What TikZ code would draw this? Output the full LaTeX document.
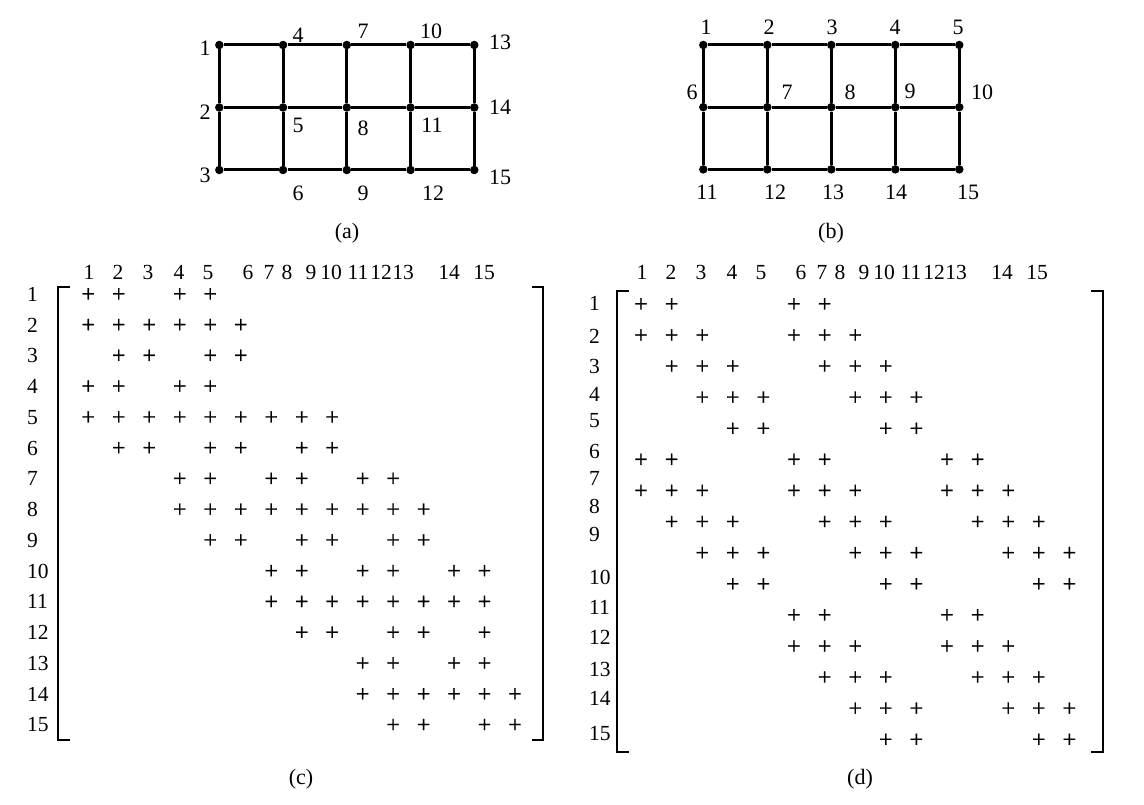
\documentclass[tikz,border=0pt]{standalone}
\usepackage{fontspec}
\setmainfont{Liberation Serif}
\newfontfamily\plusfont[FakeBold=0.8]{Liberation Serif}
\tikzstyle{vertex} = [circle, fill, inner sep=0pt, minimum size=8.5pt]
\tikzstyle{edge} = [line width=3pt]
\tikzstyle{caption} = [inner sep=0pt, font=\fontsize{22}{22}\selectfont]
\tikzstyle{vlabel} = [inner sep=0pt, anchor=base, yshift=-7.4pt, font=\fontsize{22}{22}\selectfont]
\tikzstyle{entry} = [inner sep=0pt, font=\plusfont\fontsize{24}{24}\selectfont]
\tikzstyle{rowlabel} = [inner sep=0pt, anchor=base west, yshift=-7.3pt, font=\fontsize{21.5}{21.5}\selectfont]
\tikzstyle{collabel} = [inner sep=0pt, anchor=base, yshift=-7.3pt, font=\fontsize{21.5}{21.5}\selectfont]
\tikzstyle{bracket} = [line width=2pt]

\begin{document}
\begin{tikzpicture}[x=1pt, y=-1pt]
	\useasboundingbox (0,0) rectangle (1144,805);
	\fill [white] (0,0) rectangle (1144,805);

	\foreach \i in {0,...,4}
		\foreach \j in {0,1,2} {
			\pgfmathtruncatemacro{\n}{3*\i+\j+1}
			\pgfmathtruncatemacro{\m}{5*\j+\i+1}
			\node [vertex] (a\n) at ({219.3+63.75*\i},{45+62.5*\j}) {};
			\node [vertex] (b\m) at ({703.3+64*\i},{45+62.2*\j}) {};
		}
	\foreach \n in {1,...,12} {
		\pgfmathtruncatemacro{\k}{\n+3}
		\draw [edge] (a\n) -- (a\k);
	}
	\foreach \n in {1,2,4,5,7,8,10,11,13,14} {
		\pgfmathtruncatemacro{\k}{\n+1}
		\draw [edge] (a\n) -- (a\k);
	}
	\foreach \n in {1,2,3,4,6,7,8,9,11,12,13,14} {
		\pgfmathtruncatemacro{\k}{\n+1}
		\draw [edge] (b\n) -- (b\k);
	}
	\foreach \n in {1,...,10} {
		\pgfmathtruncatemacro{\k}{\n+5}
		\draw [edge] (b\n) -- (b\k);
	}

	\foreach \n/\x/\y in {1/205/48, 2/205/112, 3/205/175, 4/298/35, 5/298/125, 6/298/193, 7/363/31, 8/363/128, 9/363/193, 10/431/31, 11/432/125, 12/433/193, 13/500/42, 14/500/107, 15/500/177}
		\node [vlabel] (la\n) at (\x,\y) {\n};
	\foreach \n/\x/\y in {1/706/27, 2/769/27, 3/832/27, 4/895/27, 5/958/27, 6/692/92, 7/787/92, 8/850/92, 9/910/91, 10/982/92, 11/707/192, 12/775/192, 13/833/192, 14/896/192, 15/968/192}
		\node [vlabel] (lb\n) at (\x,\y) {\n};
	\node [caption] (capa) at (347,233) {(a)};
	\node [caption] (capb) at (831,233) {(b)};

	\foreach \c/\x in {1/89, 2/118, 3/148, 4/179, 5/208, 6/248, 7/269, 8/287, 9/311, 10/331, 11/358, 12/381, 13/403, 14/449, 15/484} {
		\node [collabel] (ch\c) at (\x,272) {\c};
		\node [collabel] (dh\c) at ({\x+553},272) {\c};
	}

	\foreach \r in {1,...,15}
		\node [rowlabel] (cr\r) at (27,{294+30.76*(\r-1)}) {\r};
	\foreach \r/\cols in {1/{1,2,4,5}, 2/{1,...,6}, 3/{2,3,5,6}, 4/{1,2,4,5}, 5/{1,...,9}, 6/{2,3,5,6,8,9}, 7/{4,5,7,8,10,11}, 8/{4,...,12}, 9/{5,6,8,9,11,12}, 10/{7,8,10,11,13,14}, 11/{7,...,14}, 12/{8,9,11,12,14}, 13/{10,11,13,14}, 14/{10,...,15}, 15/{11,12,14,15}}
		\foreach \c in \cols
			\node [entry] (c\r-\c) at ({88.3+30.48*(\c-1)},{295+30.76*(\r-1)}) {+};
	\draw [bracket] (70,287.5) -- (58.3,287.5) -- (58.3,740) -- (70,740);
	\draw [bracket] (532,287.5) -- (543.3,287.5) -- (543.3,740) -- (532,740);
	\node [caption] (capc) at (301,779) {(c)};

	\foreach \r/\y in {1/303, 2/336, 3/366, 4/394, 5/420, 6/451, 7/478, 8/506, 9/534, 10/577, 11/607, 12/637, 13/669, 14/698, 15/733}
		\node [rowlabel] (dr\r) at (589,\y) {\r};
	\foreach \r/\cols in {1/{1,2,6,7}, 2/{1,2,3,6,7,8}, 3/{2,3,4,7,8,9}, 4/{3,4,5,8,9,10}, 5/{4,5,9,10}, 6/{1,2,6,7,11,12}, 7/{1,2,3,6,7,8,11,12,13}, 8/{2,3,4,7,8,9,12,13,14}, 9/{3,4,5,8,9,10,13,14,15}, 10/{4,5,9,10,14,15}, 11/{6,7,11,12}, 12/{6,7,8,11,12,13}, 13/{7,8,9,12,13,14}, 14/{8,9,10,13,14,15}, 15/{9,10,14,15}}
		\foreach \c in \cols
			\node [entry] (d\r-\c) at ({641+30.6*(\c-1)},{305+31.1*(\r-1)}) {+};
	\draw [bracket] (629,290.7) -- (616.7,290.7) -- (616.7,752) -- (629,752);
	\draw [bracket] (1091,290.7) -- (1103,290.7) -- (1103,752) -- (1091,752);
	\node [caption] (capd) at (860,779) {(d)};
\end{tikzpicture}
\end{document}
